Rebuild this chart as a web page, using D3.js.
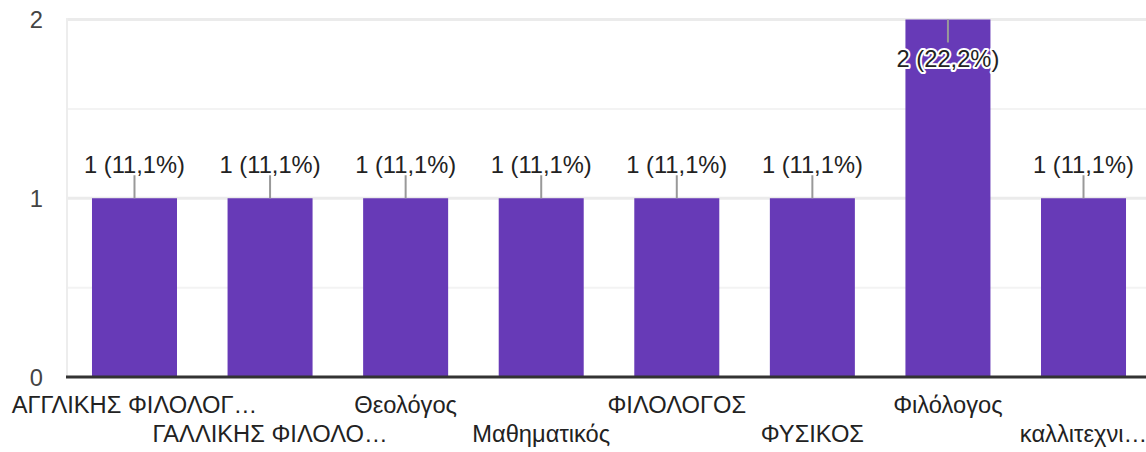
<!DOCTYPE html>
<html><head><meta charset="utf-8">
<script src="https://cdn.jsdelivr.net/npm/d3@7"></script>
<style>
html,body{margin:0;padding:0;background:#fff;overflow:hidden}
text{font-family:"Liberation Sans",Arial,sans-serif}
</style></head>
<body><svg id="c" width="1146" height="452"></svg>
<script>
const categories = ["ΑΓΓΛΙΚΗΣ ΦΙΛΟΛΟΓ…","ΓΑΛΛΙΚΗΣ ΦΙΛΟΛΟ…","Θεολόγος","Μαθηματικός","ΦΙΛΟΛΟΓΟΣ","ΦΥΣΙΚΟΣ","Φιλόλογος","καλλιτεχνι…"];
const values = [1,1,1,1,1,1,2,1];
const yTicks = [0,1,2];
const yMinorTicks = [0.5,1.5];

const total = d3.sum(values);
const fmtPct = v => (Math.round(v/total*1000)/10).toFixed(1).replace(".", ",") + "%";

const svg = d3.select("#c");
const x = d3.scaleBand().domain(categories).range([66.7, 1151.3]).paddingInner(0.373).paddingOuter(0.1865);
const y = d3.scaleLinear().domain([0,2]).range([377, 19.5]);
const fs = 23.7;

svg.append("g").selectAll("line").data(yMinorTicks).join("line")
  .attr("x1", 66).attr("x2", 1151).attr("y1", d=>y(d)).attr("y2", d=>y(d))
  .attr("stroke", "#f3f3f3").attr("stroke-width", 2);
svg.append("g").selectAll("line").data(yTicks.filter(d=>d>0)).join("line")
  .attr("x1", 66).attr("x2", 1151).attr("y1", d=>y(d)).attr("y2", d=>y(d))
  .attr("stroke", "#ebebeb").attr("stroke-width", 3);
svg.append("line").attr("x1", 67).attr("x2", 67).attr("y1", y(2)-1.5).attr("y2", y(0))
  .attr("stroke", "#ededed").attr("stroke-width", 2);

svg.append("g").selectAll("text").data(yTicks).join("text")
  .attr("x", 43).attr("y", d=>y(d)).attr("dy", "0.36em")
  .attr("text-anchor", "end").attr("font-size", fs).attr("fill", "#444")
  .text(d=>d);

svg.append("g").selectAll("rect").data(values).join("rect")
  .attr("x", (d,i)=>x(categories[i])).attr("width", x.bandwidth())
  .attr("y", d=>y(d)).attr("height", d=>y(0)-y(d))
  .attr("fill", "#673ab7");

svg.append("line").attr("x1", 66).attr("x2", 1151).attr("y1", y(0)).attr("y2", y(0))
  .attr("stroke", "#333").attr("stroke-width", 3);

const lab = svg.append("g");
values.forEach((v,i)=>{
  const cx = x(categories[i]) + x.bandwidth()/2;
  const top = y(v);
  const inside = top < 60;
  const l1 = inside ? top : top - 23;
  const l2 = inside ? top + 23 : top;
  lab.append("line").attr("x1", cx).attr("x2", cx).attr("y1", l1).attr("y2", l2)
    .attr("stroke", "#999").attr("stroke-width", 2);
  const t = lab.append("text").attr("x", cx).attr("y", inside ? top + 47 : top - 25)
    .attr("text-anchor", "middle").attr("font-size", fs).attr("fill", "#222")
    .text(v + " (" + fmtPct(v) + ")");
  if (inside) t.attr("stroke", "#fff").attr("stroke-width", 4).attr("paint-order", "stroke").attr("stroke-linejoin", "round");
});

svg.append("g").selectAll("text").data(categories).join("text")
  .attr("x", d=>x(d)+x.bandwidth()/2)
  .attr("y", (d,i)=> i%2===0 ? 413 : 442)
  .attr("text-anchor", "middle").attr("font-size", fs).attr("fill", "#222")
  .text(d=>d);
</script></body></html>
